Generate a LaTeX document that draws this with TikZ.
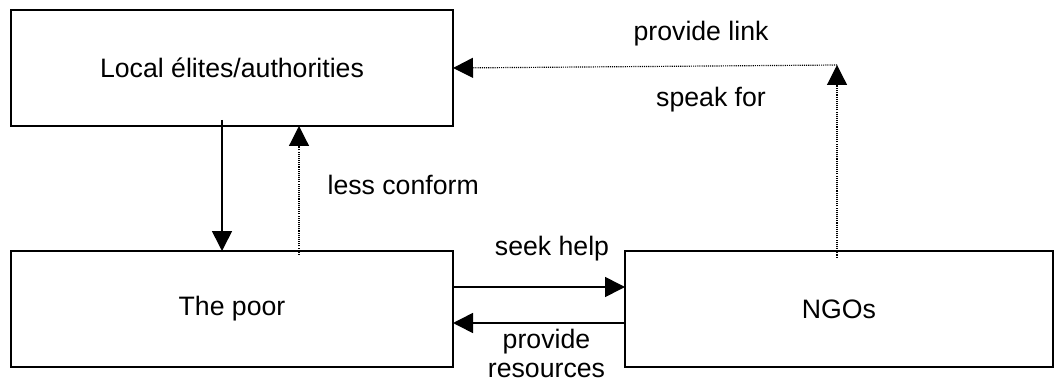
\documentclass[tikz,border=0pt]{standalone}
\usepackage{fontspec}
\setmainfont{Liberation Sans}
\usetikzlibrary{positioning,arrows.meta,calc}
\begin{document}
\begin{tikzpicture}[
    >={Triangle[length=15pt,width=15pt]},
    line width=1.2pt,
    font=\fontsize{20}{21.75}\selectfont,
    box/.style={rectangle, draw, inner sep=0pt, outer sep=0pt, minimum width=331.5pt, minimum height=87pt},
    lbl/.style={inner sep=0pt},
    link/.style={line width=0.9pt, dash pattern=on 0.8pt off 0.8pt}]
    \useasboundingbox (0,0) rectangle (791.25pt,-285.75pt);
    \node[box] (L) at (174pt,-51pt) {Local élites/authorities};
    \node[box] (P) [below=93.75pt of L] {The poor};
    \node[box, minimum width=321pt] (N) [right=129pt of P] {NGOs};
    \coordinate (C) at ($(N.north |- L.east)+(-1.5pt,2.25pt)$);
    \draw[->, shorten <=-4.5pt] ([xshift=-7.5pt]L.south) to ([xshift=-7.5pt]P.north);
    \draw[->, link, shorten <=-3pt] ([xshift=50.25pt]P.north) to node[lbl, pos=0.53, right=21pt] {less conform} ([xshift=50.25pt]L.south);
    \draw[->] ([yshift=16.5pt]P.east) to node[lbl, above=19pt, xshift=9.75pt] {seek help} ([yshift=16.5pt]N.west);
    \draw[->] ([yshift=-10.5pt]N.west) to node[lbl, below=4pt, xshift=5.6pt, align=center] {provide\\resources} ([yshift=-10.5pt]P.east);
    \draw[->, link, shorten <=-5pt] ([xshift=-1.5pt]N.north) to (C);
    \draw[->, link] (C) to node[lbl, pos=0.354, above=14.5pt] {provide link} node[lbl, pos=0.328, below=15.5pt] {speak for} (L.east);
\end{tikzpicture}
\end{document}
